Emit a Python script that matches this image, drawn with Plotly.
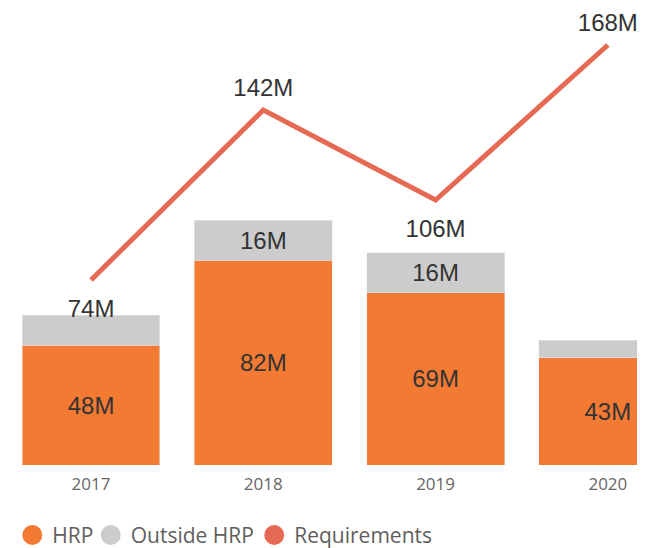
import plotly.graph_objects as go

years = ["2017", "2018", "2019", "2020"]
hrp = [48, 82, 69, 43]
outside_hrp = [12, 16, 16, 7]
requirements = [74, 142, 106, 168]
req_label_pos = ["bottom center", "top center", "bottom center", "top center"]

C_HRP = "#F37A33"
C_OUT = "#CCCCCC"
C_REQ = "#E66A53"
LABEL_FONT = dict(family="Liberation Sans, Arial", size=24, color="#333333")

x = list(range(len(years)))

fig = go.Figure()
fig.add_trace(go.Bar(
    x=x, y=hrp, marker_color=C_HRP, width=0.8, name="HRP", showlegend=False,
    text=[f"{v}M" for v in hrp], textposition="inside", insidetextanchor="middle",
    textangle=0, textfont=LABEL_FONT, insidetextfont=LABEL_FONT,
    constraintext="none", hoverinfo="skip",
))
fig.add_trace(go.Bar(
    x=x, y=outside_hrp, marker_color=C_OUT, width=0.8, name="Outside HRP", showlegend=False,
    text=[f"{v}M" if v >= 15 else "" for v in outside_hrp], textposition="inside",
    insidetextanchor="middle", textangle=0, textfont=LABEL_FONT, insidetextfont=LABEL_FONT,
    constraintext="none", hoverinfo="skip",
))
fig.add_trace(go.Scatter(
    x=x, y=requirements, mode="lines+markers+text", name="Requirements", showlegend=False,
    line=dict(color=C_REQ, width=5),
    marker=dict(size=[29 if p.startswith("bottom") else 12 for p in req_label_pos],
                opacity=0, color=C_REQ),
    text=[f"{v}M" for v in requirements], textposition=req_label_pos,
    textfont=LABEL_FONT, cliponaxis=False, hoverinfo="skip",
))

# legend entries (circle symbols), one small legend per entry
legend_items = [("HRP", C_HRP, "legend"), ("Outside HRP", C_OUT, "legend2"),
                ("Requirements", C_REQ, "legend3")]
for name, col, lg in legend_items:
    fig.add_trace(go.Scatter(
        x=[None], y=[None], mode="markers", name=name, legend=lg,
        marker=dict(symbol="circle", size=16, color=col, line=dict(color=col, width=4)),
        showlegend=True,
    ))

legend_style = dict(orientation="h", xanchor="left", y=-0.109, yanchor="top",
                    font=dict(family="Open Sans", size=21, color="#605E5C"),
                    itemsizing="trace", itemwidth=30, bgcolor="rgba(0,0,0,0)")

fig.update_layout(
    width=645, height=548,
    barmode="stack",
    margin=dict(l=0, r=0, t=0, b=91),
    paper_bgcolor="white", plot_bgcolor="white",
    xaxis=dict(range=[-0.482, 3.262], tickvals=x, ticktext=years, showgrid=False,
               zeroline=False, showline=False, ticks="", ticklabelstandoff=7,
               tickfont=dict(family="Open Sans", size=17, color="#666666")),
    yaxis=dict(range=[0, 182.8], visible=False),
    legend=dict(x=0.0067, **legend_style),
    legend2=dict(x=0.1283, **legend_style),
    legend3=dict(x=0.3818, **legend_style),
    showlegend=True,
)

fig.write_html("out.html")
